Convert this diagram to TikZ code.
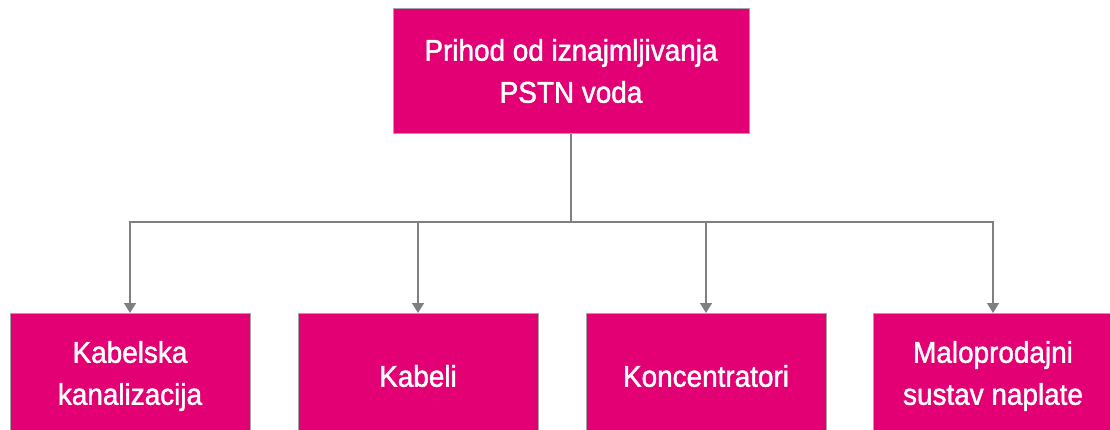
\documentclass[tikz,border=0pt]{standalone}
\usepackage{fontspec}
\setmainfont{Liberation Sans}[FakeStretch=0.93,FakeBold=1.5]
\usepackage{tikz}
\usetikzlibrary{positioning}
\usetikzlibrary{arrows.meta}

\definecolor{tmagenta}{HTML}{E20074}
\definecolor{linegray}{HTML}{7F7F7F}

\begin{document}
\begin{tikzpicture}
        [x=1pt,y=-1pt,
         box/.style={draw=linegray!70, line width=1pt, fill=tmagenta, text=white,
                     align=center, inner sep=0pt, minimum width=240, minimum height=125,
                     font=\fontsize{30}{42}\selectfont},
         conn/.style={draw=linegray, line width=1.4pt, -{Triangle[length=10pt,width=12pt]}}]
      \clip (0,0) rectangle (1110,430);
      \useasboundingbox (0,0) rectangle (1110,430);
      \node[box, minimum width=356] (R0) at (571,71) {Prihod od iznajmljivanja\\PSTN voda};
      \node[box] (K1) at (130,376) {Kabelska\\kanalizacija};
      \node[box] (K2) at (418,376) {Kabeli};
      \node[box] (K3) at (706,376) {Koncentratori};
      \node[box] (K4) at (993,376) {Maloprodajni\\sustav naplate};
      \coordinate (bar) at (571,222);
      \foreach \k in {K1,K2,K3,K4}
        \draw [conn] (R0.south) -- (bar) -| (\k.north);
      \end{tikzpicture}
\end{document}
